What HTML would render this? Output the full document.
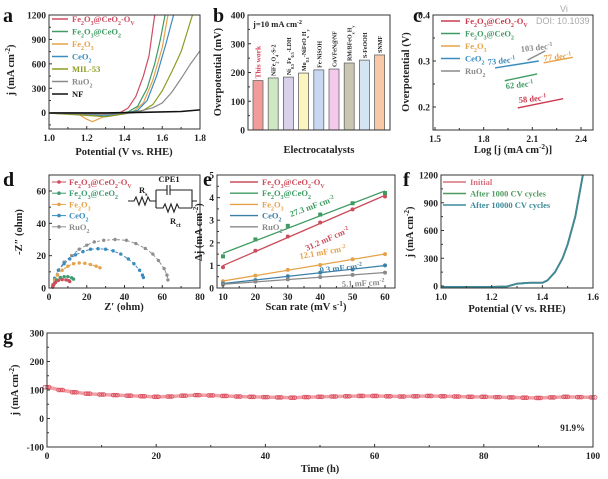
<!DOCTYPE html>
<html><head><meta charset="utf-8"><style>
body{margin:0;background:#fff}
svg{display:block;font-family:"Liberation Serif",serif;font-weight:bold}
</style></head><body>
<svg id="fig" width="608" height="479" viewBox="0 0 608 479" xmlns="http://www.w3.org/2000/svg"></svg>
<script>
// ---------- DATA ----------
const aSeries = ["Fe_{2}O_{3}@CeO_{2}-O_{V}","Fe_{2}O_{3}@CeO_{2}","Fe_{2}O_{3}","CeO_{2}","MIL-53","RuO_{2}","NF"];
const aColors = ["#cc4d63","#3f9b62","#e6a24a","#3a8cbf","#8d9b22","#8a8a8a","#111"];
const aV = [
 [1.0,1.2,1.35,1.38,1.42,1.46,1.5,1.53,1.56],
 [1.0,1.2,1.28,1.35,1.42,1.47,1.52,1.56,1.59,1.615],
 [1.0,1.15,1.2,1.23,1.26,1.3,1.4,1.45,1.5,1.55,1.6,1.63],
 [1.0,1.25,1.3,1.4,1.47,1.52,1.57,1.62,1.66],
 [1.0,1.25,1.3,1.4,1.5,1.55,1.6,1.65,1.7,1.76],
 [1.0,1.3,1.45,1.55,1.6,1.65,1.7,1.75,1.8],
 [1.0,1.3,1.5,1.7,1.8]];
const aJ = [
 [-5,-8,-5,5,60,200,450,700,1200],
 [-5,-20,-45,-20,10,80,300,600,900,1200],
 [-5,-10,-80,-110,-80,-40,-10,20,120,400,800,1200],
 [-5,-30,-40,-10,30,150,450,850,1200],
 [-5,-40,-50,-15,30,100,270,500,750,1200],
 [-5,-20,0,60,120,250,420,600,760],
 [-3,-3,5,15,35]];
const bCats = ["This work","NiFe_{2}O_{4}-S-2","Ni_{0.5}Fe_{0.5}-LDH","Mo_{0.1}-NiFeO_{x}H_{y}","Fe-NiSOH","CoVFeN@NF","RM/BFeO_{x}H_{y}","S-FeOOH","SNMF"];
const bVals = [172,181,184,198,209,212,233,243,261];
const bColors = ["#f29b9b","#cfe8c4","#d9d0ea","#fbf6c0","#c8d8f2","#f5c8ee","#c9c7b2","#d3e4f2","#f8c9a4"];
const cNames = ["Fe_{2}O_{3}@CeO_{2}-O_{V}","Fe_{2}O_{3}@CeO_{2}","Fe_{2}O_{3}","CeO_{2}","RuO_{2}"];
const cColors = ["#cc3b4f","#3f9b62","#e6a24a","#3a8cbf","#8a8a8a"];
const cX = [[2.01,2.29],[1.93,2.13],[2.17,2.35],[1.87,2.14],[2.07,2.18]];
const cY = [[0.198,0.218],[0.257,0.272],[0.296,0.308],[0.285,0.30],[0.302,0.322]];
const cTafel = ["58 dec^{-1}","62 dec^{-1}","77 dec^{-1}","73 dec^{-1}","103 dec^{-1}"];
const dNames = ["Fe_{2}O_{3}@CeO_{2}-O_{V}","Fe_{2}O_{3}@CeO_{2}","Fe_{2}O_{3}","CeO_{2}","RuO_{2}"];
const dColors = ["#cc4d5b","#3f9b72","#e6a24a","#3a8cbf","#8f8f8f"];
const dX = [[2,2.5,3.5,5,7,9,10.5,11],[2,3,4,6,8,10,12,13],[2,3,4.5,7,10,13,16,19,22,25,27],
 [2,3,5,8,11,14,18,22,26,30,34,38,42,45,48,49.5,50],
 [2,3,5,8,12,16,20,24,29,35,41,46,51,55,58,61,62.5,63]];
const dY = [[0.5,2,3.5,4.7,5.2,5,4.5,4],[1,3,5,6.5,7,7,6.3,5.5],[2,5,8,11,13.5,15,15.5,15.3,14.5,13.5,12.5],
 [2,6,11,15,18,20.5,22.5,24,24.3,24,23,21,18,15,11,8,6.5],
 [2,6,11,16,20,24,26.5,28.5,29.5,30,29.5,27.5,24.5,21,17,12,8,5]];
const eNames = ["Fe_{2}O_{3}@CeO_{2}-O_{V}","Fe_{2}O_{3}@CeO_{2}","Fe_{2}O_{3}","CeO_{2}","RuO_{2}"];
const eColors = ["#cc4d5b","#3f9b62","#e6a24a","#3a7fa8","#8a8a8a"];
const eRates = [10,20,30,40,50,60];
const eVals = [[0.92,1.65,2.28,2.9,3.48,4.05],[1.4,2.15,2.75,3.25,3.75,4.2],[0.3,0.55,0.8,1.02,1.27,1.5],[0.2,0.35,0.52,0.68,0.82,1.0],[0.15,0.28,0.38,0.48,0.58,0.68]];
const eCdl = ["31.2 mF cm^{-2}","27.3 mF cm^{-2}","12.1 mF cm^{-2}","9.3 mF cm^{-2}","5.1 mF cm^{-2}"];
const fNames = ["Initial","After 1000 CV cycles","After 10000 CV cycles"];
const fColors = ["#d9707d","#4f9b5f","#3d8a9a"];
const fV = [1.0,1.2,1.26,1.3,1.35,1.4,1.42,1.45,1.48,1.5,1.53,1.56];
const fJ = [[-10,-10,-5,25,35,35,60,150,300,450,750,1200],[-10,-10,-5,25,35,35,60,150,300,450,750,1200],[-10,-10,-5,25,35,35,60,150,300,450,750,1200]];
const gT = [0,2.5,5,7.5,10,12.5,15,17.5,20,22.5,25,27.5,30,32.5,35,37.5,40,42.5,45,47.5,50,52.5,55,57.5,60,62.5,65,67.5,70,72.5,75,77.5,80,82.5,85,87.5,90,92.5,95,97.5,100];
const gJ = [110,100,92,87,84,82,80,78,76,77,80,82,81,79,77,76,75,74,73,75,76,77,78,79,79,78,77,78,79,78,77,76,76,75,74,73,72,74,76,75,74];

// ---------- HELPERS ----------
const svg=document.getElementById('fig');const NS="http://www.w3.org/2000/svg";
function el(tag,attrs,parent){const e=document.createElementNS(NS,tag);for(const k in attrs)e.setAttribute(k,attrs[k]);(parent||svg).appendChild(e);return e;}
function lin(d0,d1,r0,r1){return v=>r0+(v-d0)*(r1-r0)/(d1-d0);}
function esc(s){return s.replace(/&/g,'&amp;').replace(/</g,'&lt;');}
function rich(s){return esc(s).replace(/_\{([^}]*)\}/g,'<tspan font-size="70%" baseline-shift="sub">$1</tspan>').replace(/\^\{([^}]*)\}/g,'<tspan font-size="70%" baseline-shift="super">$1</tspan>');}
function txt(x,y,s,o){const t=el('text',Object.assign({x:x,y:y,'font-size':10,fill:'#222'},o||{}));t.innerHTML=rich(s);return t;}
function frame(x0,y0,x1,y1,name){const r=el('rect',{x:x0,y:y0,width:x1-x0,height:y1-y0,fill:'none',stroke:'#333','stroke-width':1});}
function fmt(v,dec){return dec!=null?v.toFixed(dec):String(v);}
function xt(sx,vals,y1,minor,dec){vals.forEach(v=>{el('line',{x1:sx(v),x2:sx(v),y1:y1,y2:y1-3,stroke:'#333'});const t=txt(sx(v),y1+12,fmt(v,dec),{'text-anchor':'middle','font-size':9.5});});(minor||[]).forEach(v=>el('line',{x1:sx(v),x2:sx(v),y1:y1,y2:y1-2,stroke:'#333'}));}
function yt(sy,vals,x0,minor,dec){vals.forEach(v=>{el('line',{x1:x0,x2:x0+3,y1:sy(v),y2:sy(v),stroke:'#333'});const t=txt(x0-3,sy(v)+3.5,fmt(v,dec),{'text-anchor':'end','font-size':9.5});});(minor||[]).forEach(v=>el('line',{x1:x0,x2:x0+2,y1:sy(v),y2:sy(v),stroke:'#333'}));}
function ytitle(x,y,s,name){const t=txt(x,y,s,{transform:'rotate(-90 '+x+' '+y+')','text-anchor':'middle','font-size':10.5});}
function xtitle(x,y,s,name){const t=txt(x,y,s,{'text-anchor':'middle','font-size':10.5});}
function letter(x,y,s){const t=txt(x,y,s,{'font-size':20,fill:'#111'});}
function poly(xs,ys,sx,sy,col,w){return el('polyline',{points:xs.map((x,i)=>sx(x)+','+sy(ys[i])).join(' '),fill:'none',stroke:col,'stroke-width':w||1.2,'stroke-linejoin':'round'});}
function clip(id,x0,y0,x1,y1){const c=el('clipPath',{id:id});el('rect',{x:x0,y:y0,width:x1-x0,height:y1-y0},c);}

// ---------- PANEL A ----------
(function(){const sx=lin(1.0,1.8,49,200),sy=lin(-200,1200,129,15);clip('ca',49,15,200,129);
const g=el('g',{'clip-path':'url(#ca)'});
aV.forEach((vs,i)=>{const p=poly(vs,aJ[i],sx,sy,aColors[i],i==6?1.6:1.2);g.appendChild(p);});
frame(49,15,200,129,'panel-a-axes');xt(sx,[1.0,1.2,1.4,1.6,1.8],129,[1.1,1.3,1.5,1.7],1);
yt(sy,[0,300,600,900,1200],49,[-150,150,450,750,1050]);
aSeries.forEach((s,i)=>{const y=22+i*12.5;el('line',{x1:52,x2:68,y1:y-3,y2:y-3,stroke:aColors[i],'stroke-width':1.5});const t=txt(72,y,s,{fill:aColors[i],'font-size':8.5});});
ytitle(14,70,'j (mA cm^{-2})','y-axis-title');xtitle(124,155,'Potential (V vs. RHE)','x-axis-title');letter(3,22,'a');})();

// ---------- PANEL B ----------
(function(){const sy=lin(0,400,130,15);const x0=253,step=15.2,bw=10;
bVals.forEach((v,i)=>{const cx=x0+i*step+bw/2;const r=el('rect',{x:cx-bw/2,y:sy(v),width:bw,height:sy(0)-sy(v),fill:bColors[i],stroke:'#666','stroke-width':0.8});
const t=txt(cx+2.5,sy(v)-2,bCats[i],{transform:'rotate(-90 '+(cx+2.5)+' '+(sy(v)-2)+')','font-size':i==0?7.5:6,fill:i==0?'#d9485a':'#222'});});
frame(248,15,390,130,'panel-b-axes');yt(sy,[0,100,200,300,400],248,[50,150,250,350]);
const t=txt(253,27,'j=10 mA cm^{-2}',{'font-size':8.5});
ytitle(221,72,'Overpotential (mV)','y-axis-title');xtitle(319,153,'Electrocatalysts','x-axis-title');letter(213,22,'b');})();

// ---------- PANEL C ----------
(function(){const sx=lin(1.5,2.4,435,581),sy=lin(0.2,0.4,107,15);
cX.forEach((xs,i)=>{const p=poly(xs,cY[i],sx,sy,cColors[i],1.4);});
const lp=[[519,103],[506,89],[544,61],[488,65],[521,52]];
cTafel.forEach((s,i)=>{const t=txt(lp[i][0],lp[i][1],s,{fill:cColors[i],'font-size':8.5,transform:'rotate(-6 '+lp[i][0]+' '+lp[i][1]+')'});});
frame(433,15,593,130,'panel-c-axes');xt(sx,[1.5,1.8,2.1,2.4],130,[1.65,1.95,2.25],1);yt(sy,[0.2,0.3,0.4],433,[0.25,0.35],1);
cNames.forEach((s,i)=>{const y=24+i*12.5;el('line',{x1:441,x2:460,y1:y-3,y2:y-3,stroke:cColors[i],'stroke-width':1.5});const t=txt(465,y,s,{fill:cColors[i],'font-size':8.5});});
txt(560,12,'Vi',{fill:'#aaa','font-weight':'normal','font-family':'Liberation Sans, sans-serif','font-size':9});
txt(536,24,'DOI: 10.1039',{fill:'#aaa','font-weight':'normal','font-family':'Liberation Sans, sans-serif','font-size':9});
ytitle(409,72,'Overpotential (V)','y-axis-title');xtitle(513,153,'Log [j (mA cm^{-2})]','x-axis-title');letter(413,22,'c');})();

// ---------- PANEL D ----------
(function(){const sx=lin(0,80,49,200),sy=lin(0,60,288,191);
[4,3,2,1,0].forEach(i=>{const p=poly(dX[i],dY[i],sx,sy,dColors[i],1);p.setAttribute('stroke-dasharray','3 2');
dX[i].forEach((x,k)=>{const c=el('circle',{cx:sx(x),cy:sy(dY[i][k]),r:1.7,fill:dColors[i]});});});
frame(49,175,200,288,'panel-d-axes');xt(sx,[0,20,40,60,80],288,[10,30,50,70]);yt(sy,[0,20,40,60],49,[10,30,50]);
dNames.forEach((s,i)=>{const y=185+i*11.2;el('line',{x1:52,x2:66,y1:y-3,y2:y-3,stroke:dColors[i]});el('circle',{cx:59,cy:y-3,r:1.8,fill:dColors[i]});const t=txt(69,y,s,{fill:dColors[i],'font-size':8.5});});
const cg=el('g',{stroke:'#222',fill:'none','stroke-width':1.1});
el('path',{d:'M128 201 H134 l2 -4 l3 8 l3 -8 l3 8 l3 -8 l2 4 H156 M156 190 V208 M156 190 H167 M170 190 H192 V208 M167 185 V195 M170 185 V195 M156 208 H163 l2 -4 l3 8 l3 -8 l3 8 l3 -8 l2 4 H192 M192 201 H197'},cg);
txt(139,193,'R_{s}',{'font-size':8.5});txt(169,182,'CPE1',{'font-size':8.5,'text-anchor':'middle'});txt(170,224,'R_{ct}',{'font-size':8.5});
ytitle(22,232,'-Z\u2033 (ohm)','y-axis-title');xtitle(124,310,'Z\u2032 (ohm)','x-axis-title');letter(3,186,'d');})();

// ---------- PANEL E ----------
(function(){const sx=lin(10,60,223,385),sy=lin(0,5,288,175);
eVals.forEach((vs,i)=>{const n=vs.length;let mx=0,my=0;eRates.forEach((x,k)=>{mx+=x/n;my+=vs[k]/n;});let num=0,den=0;eRates.forEach((x,k)=>{num+=(x-mx)*(vs[k]-my);den+=(x-mx)*(x-mx);});const b=num/den,a=my-b*mx;
const l=el('line',{x1:sx(10),y1:sy(a+b*10),x2:sx(60),y2:sy(a+b*60),stroke:eColors[i],'stroke-width':1.3});
eRates.forEach((x,k)=>{const m=i==1?el('rect',{x:sx(x)-2,y:sy(vs[k])-2,width:4,height:4,fill:eColors[i]}):el('circle',{cx:sx(x),cy:sy(vs[k]),r:2,fill:eColors[i]});});});
const lp=[[307,251,-24],[291,217,-20],[300,259,-10],[320,273,-6],[342,287,-3]];
eCdl.forEach((s,i)=>{const t=txt(lp[i][0],lp[i][1],s,{fill:eColors[i],'font-size':8.5,transform:'rotate('+lp[i][2]+' '+lp[i][0]+' '+lp[i][1]+')'});});
frame(217,175,395,288,'panel-e-axes');xt(sx,eRates,288,[15,25,35,45,55]);yt(sy,[0,1,2,3,4,5],217,[0.5,1.5,2.5,3.5,4.5]);
eNames.forEach((s,i)=>{const y=185+i*11.2;el('line',{x1:230,x2:258,y1:y-3,y2:y-3,stroke:eColors[i],'stroke-width':1.4});const t=txt(262,y,s,{fill:eColors[i],'font-size':8.5});});
ytitle(202,232,'\u0394j (mA cm^{-2})','y-axis-title');xtitle(306,310,'Scan rate (mV s^{-1})','x-axis-title');letter(203,186,'e');})();

// ---------- PANEL F ----------
(function(){const sx=lin(1.0,1.6,441,593),sy=lin(0,1200,286,175);clip('cf',441,175,593,288);
const g=el('g',{'clip-path':'url(#cf)'});
fJ.forEach((js,i)=>{const p=poly(fV,js,sx,sy,fColors[i],1.8);g.appendChild(p);});
frame(441,175,593,288,'panel-f-axes');xt(sx,[1.0,1.2,1.4,1.6],288,[1.1,1.3,1.5],1);
yt(sy,[0,300,600,900,1200],441,[150,450,750,1050]);
fNames.forEach((s,i)=>{const y=185+i*11.5;el('line',{x1:443,x2:466,y1:y-3,y2:y-3,stroke:fColors[i],'stroke-width':1.5});const t=txt(470,y,s,{fill:fColors[i],'font-size':8.5});});
ytitle(413,232,'j (mA cm^{-2})','y-axis-title');xtitle(517,312,'Potential (V vs. RHE)','x-axis-title');letter(403,186,'f');})();

// ---------- PANEL G ----------
(function(){const sx=lin(0,100,47,593),sy=lin(-100,300,447,333);
const p=poly(gT,gJ,sx,sy,'#f2a0a8',3.5);
gT.forEach((t,k)=>{[-0.8,0,0.8].forEach(d=>{const c=el('circle',{cx:sx(t)+d*2.6,cy:sy(gJ[k]),r:1.9,fill:'none',stroke:'#d9505f','stroke-width':0.8});});});
frame(47,333,593,447,'panel-g-axes');xt(sx,[0,20,40,60,80,100],447,[10,30,50,70,90]);yt(sy,[-100,0,100,200,300],47,[-50,50,150,250]);
const t=txt(585,431,'91.9%',{'text-anchor':'end','font-size':9});
ytitle(18,390,'j (mA cm^{-2})','y-axis-title');xtitle(320,472,'Time (h)','x-axis-title');letter(3,343,'g');})();
</script>
</body></html>
